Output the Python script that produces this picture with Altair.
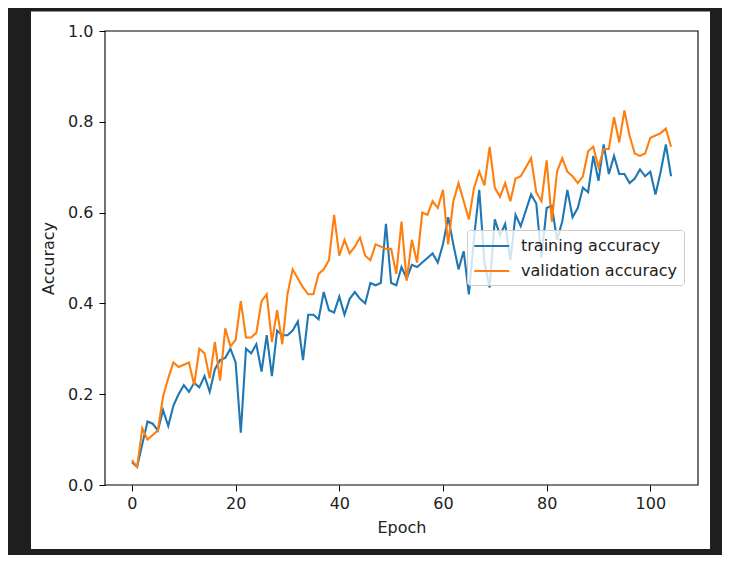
import altair as alt
import pandas as pd

epochs = list(range(105))

training = [
    0.05, 0.04, 0.09, 0.14, 0.135, 0.12, 0.165, 0.13, 0.175, 0.20,
    0.22, 0.205, 0.225, 0.215, 0.24, 0.205, 0.255, 0.275, 0.28, 0.30,
    0.27, 0.115, 0.30, 0.29, 0.31, 0.25, 0.33, 0.24, 0.34, 0.33,
    0.33, 0.34, 0.36, 0.275, 0.375, 0.375, 0.365, 0.425, 0.385, 0.38,
    0.415, 0.375, 0.41, 0.425, 0.41, 0.40, 0.445, 0.44, 0.445, 0.575,
    0.445, 0.44, 0.48, 0.455, 0.485, 0.48, 0.49, 0.50, 0.51, 0.49,
    0.53, 0.59, 0.53, 0.475, 0.515, 0.42, 0.545, 0.65, 0.49, 0.435,
    0.585, 0.55, 0.575, 0.495, 0.595, 0.57, 0.605, 0.64, 0.62, 0.50,
    0.61, 0.615, 0.54, 0.58, 0.65, 0.59, 0.61, 0.655, 0.645, 0.725,
    0.67, 0.75, 0.685, 0.725, 0.685, 0.685, 0.665, 0.675, 0.695, 0.68,
    0.69, 0.64, 0.69, 0.75, 0.68,
]

validation = [
    0.055, 0.04, 0.125, 0.10, 0.11, 0.12, 0.195, 0.235, 0.27, 0.26,
    0.265, 0.27, 0.22, 0.30, 0.29, 0.235, 0.315, 0.23, 0.345, 0.305,
    0.32, 0.405, 0.325, 0.325, 0.335, 0.405, 0.42, 0.315, 0.385, 0.31,
    0.42, 0.475, 0.455, 0.435, 0.42, 0.42, 0.465, 0.475, 0.495, 0.595,
    0.505, 0.54, 0.51, 0.525, 0.545, 0.505, 0.495, 0.53, 0.525, 0.52,
    0.52, 0.465, 0.58, 0.45, 0.54, 0.49, 0.60, 0.595, 0.625, 0.61,
    0.65, 0.53, 0.625, 0.665, 0.625, 0.585, 0.655, 0.69, 0.66, 0.745,
    0.655, 0.635, 0.665, 0.625, 0.675, 0.68, 0.70, 0.72, 0.645, 0.625,
    0.715, 0.58, 0.69, 0.72, 0.69, 0.68, 0.665, 0.68, 0.735, 0.745,
    0.70, 0.74, 0.74, 0.81, 0.755, 0.825, 0.77, 0.73, 0.725, 0.73,
    0.765, 0.77, 0.775, 0.785, 0.745,
]

series_names = ["training accuracy", "validation accuracy"]
series_colors = ["#1f77b4", "#ff7f0e"]
x_ticks = [0, 20, 40, 60, 80, 100]
y_ticks = [0.0, 0.2, 0.4, 0.6, 0.8, 1.0]
x_domain = [-5.2, 109.2]
y_domain = [0.0, 1.0]

df = pd.DataFrame(
    {
        "Epoch": epochs * 2,
        "Accuracy": training + validation,
        "series": [series_names[0]] * len(epochs) + [series_names[1]] * len(epochs),
    }
)

FONT = "DejaVu Sans"
FS = 16
TXT = "#222222"

xscale = alt.Scale(domain=x_domain, nice=False, zero=False)
yscale = alt.Scale(domain=y_domain, nice=False)

xaxis = alt.Axis(values=x_ticks, title="Epoch", titlePadding=8, labelPadding=4, zindex=2)
yaxis = alt.Axis(values=y_ticks, format=".1f", title="Accuracy", titlePadding=11, labelPadding=6, zindex=2)

# white "figure" panel inside the dark frame
panel = alt.Chart(pd.DataFrame({"a": [0]})).mark_rect(color="white", clip=False).encode(
    x=alt.value(-74), x2=alt.value(605), y=alt.value(-19.5), y2=alt.value(518)
)

# axes frame (spines)
frame = alt.Chart(pd.DataFrame({"a": [0]})).mark_rect(
    fill="white", stroke="black", strokeWidth=1.1
).encode(
    x=alt.X(datum=x_domain[0], scale=xscale, axis=xaxis),
    x2=alt.datum(x_domain[1]),
    y=alt.Y(datum=y_domain[0], scale=yscale, axis=yaxis),
    y2=alt.datum(y_domain[1]),
)

lines = alt.Chart(df).mark_line(strokeWidth=2.1).encode(
    x=alt.X("Epoch:Q", scale=xscale, axis=xaxis),
    y=alt.Y("Accuracy:Q", scale=yscale, axis=yaxis),
    color=alt.Color(
        "series:N",
        scale=alt.Scale(domain=series_names, range=series_colors),
        legend=alt.Legend(
            title=None,
            orient="none",
            legendX=362,
            legendY=199,
            symbolType="M-1,0H3",
            symbolSize=306,
            symbolStrokeWidth=2.1,
            labelOffset=28,
            padding=6,
            rowPadding=7,
            fillColor="rgba(255,255,255,0.8)",
            strokeColor="#cccccc",
            cornerRadius=3,
            zindex=3,
        ),
    ),
)

chart = (
    alt.layer(panel, frame, lines)
    .properties(
        width=593,
        height=454,
        autosize="none",
        padding={"left": 97, "top": 23, "right": 24, "bottom": 70},
    )
    .configure(background="#1e1e1e", font=FONT)
    .configure_view(stroke="transparent", fill="white")
    .configure_axis(
        grid=False,
        domain=False,
        tickColor="black",
        tickSize=6,
        tickWidth=1,
        labelFont=FONT,
        labelFontSize=FS,
        labelColor=TXT,
        titleFont=FONT,
        titleFontSize=FS,
        titleColor=TXT,
        titleFontWeight="normal",
    )
    .configure_legend(labelFont=FONT, labelFontSize=FS, labelColor=TXT)
)

chart.save("out.html", embed_options={"renderer": "svg", "actions": False})
